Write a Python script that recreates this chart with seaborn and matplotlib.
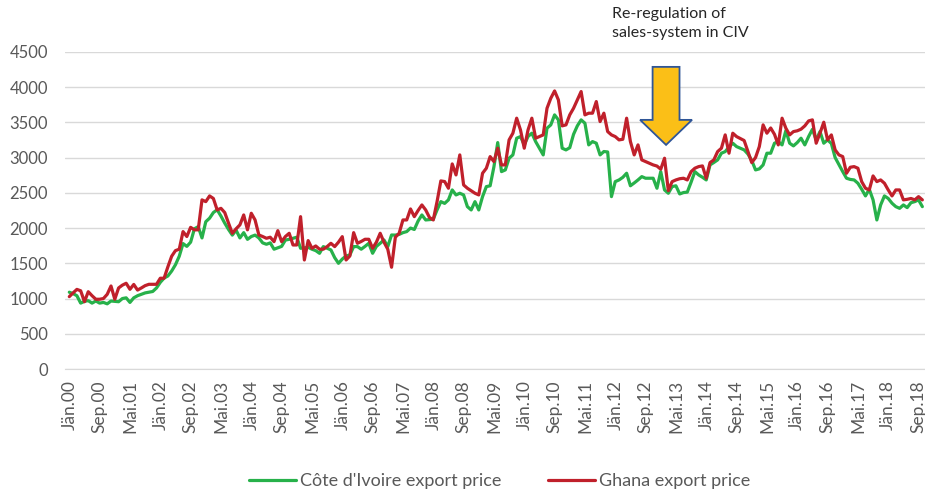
import numpy as np
import pandas as pd
import matplotlib.pyplot as plt
import seaborn as sns
from matplotlib.patches import FancyArrow

# Monthly cocoa export prices, Jan 2000 - Oct 2018
civ_price = [
    1090, 1070, 1040, 935, 960, 970, 935, 965, 935, 945, 925, 965,          # 2000
    960, 955, 1000, 1010, 945, 1010, 1040, 1060, 1080, 1090, 1100, 1150,    # 2001
    1230, 1290, 1320, 1390, 1480, 1600, 1780, 1740, 1800, 1990, 2020, 1860, # 2002
    2090, 2140, 2220, 2260, 2170, 2070, 1980, 1900, 1970, 1860, 1935, 1840, # 2003
    1880, 1900, 1860, 1790, 1770, 1790, 1700, 1720, 1740, 1830, 1840, 1855, # 2004
    1870, 1713, 1720, 1727, 1700, 1680, 1642, 1737, 1713, 1690, 1580, 1500, # 2005
    1560, 1604, 1618, 1737, 1737, 1700, 1740, 1784, 1642, 1740, 1784, 1831, # 2006
    1737, 1902, 1900, 1910, 1935, 1950, 2000, 1980, 2100, 2186, 2115, 2120, # 2007
    2125, 2257, 2375, 2350, 2400, 2541, 2470, 2494, 2470, 2304, 2257, 2375, # 2008
    2257, 2446, 2588, 2600, 2870, 3213, 2801, 2825, 2991, 3038, 3275, 3298, # 2009
    3180, 3300, 3346, 3227, 3133, 3038, 3417, 3464, 3606, 3535, 3133, 3109, # 2010
    3140, 3330, 3450, 3535, 3488, 3180, 3227, 3204, 3038, 3086, 3080, 2446, # 2011
    2659, 2683, 2720, 2778, 2600, 2640, 2683, 2730, 2707, 2707, 2707, 2565, # 2012
    2801, 2541, 2494, 2588, 2600, 2484, 2504, 2510, 2650, 2801, 2754, 2721, # 2013
    2683, 2896, 2930, 2967, 3062, 3085, 3150, 3204, 3156, 3133, 3109, 3050, # 2014
    2960, 2825, 2840, 2896, 3062, 3062, 3204, 3227, 3180, 3383, 3204, 3166, # 2015
    3213, 3275, 3180, 3298, 3400, 3251, 3369, 3204, 3251, 3200, 3000, 2900, # 2016
    2801, 2707, 2690, 2683, 2636, 2551, 2456, 2551, 2400, 2115, 2328, 2456, # 2017
    2420, 2352, 2304, 2280, 2328, 2290, 2360, 2375, 2400, 2304,             # 2018
]

ghana_price = [
    1027, 1080, 1130, 1110, 955, 1097, 1040, 990, 990, 1000, 1060, 1178,    # 2000
    990, 1150, 1190, 1217, 1131, 1200, 1120, 1150, 1183, 1202, 1202, 1202,  # 2001
    1288, 1288, 1450, 1600, 1680, 1700, 1950, 1880, 2010, 1975, 1975, 2400, # 2002
    2375, 2456, 2420, 2257, 2280, 2220, 2070, 1926, 1990, 2045, 2186, 1975, # 2003
    2210, 2115, 1902, 1880, 1855, 1870, 1807, 1963, 1807, 1880, 1926, 1760, # 2004
    1760, 2162, 1547, 1822, 1713, 1746, 1700, 1700, 1737, 1784, 1737, 1800, # 2005
    1878, 1547, 1604, 1935, 1784, 1810, 1841, 1841, 1713, 1800, 1926, 1800, # 2006
    1700, 1444, 1870, 1926, 2115, 2115, 2271, 2162, 2250, 2328, 2257, 2150, # 2007
    2115, 2375, 2669, 2660, 2565, 2910, 2754, 3038, 2612, 2565, 2530, 2494, # 2008
    2470, 2778, 2849, 3014, 2943, 3133, 2896, 2896, 3251, 3346, 3559, 3393, # 2009
    3133, 3393, 3559, 3275, 3298, 3322, 3700, 3842, 3946, 3819, 3450, 3464, # 2010
    3606, 3700, 3819, 3937, 3606, 3630, 3630, 3795, 3511, 3630, 3369, 3322, # 2011
    3298, 3251, 3260, 3559, 3227, 3038, 3180, 2967, 2943, 2920, 2896, 2880, # 2012
    2835, 2991, 2531, 2659, 2683, 2700, 2707, 2683, 2800, 2849, 2872, 2882, # 2013
    2707, 2929, 2967, 3085, 3133, 3322, 3062, 3346, 3298, 3270, 3242, 3085, # 2014
    2929, 3000, 3156, 3464, 3346, 3420, 3330, 3180, 3559, 3417, 3322, 3369, # 2015
    3380, 3403, 3450, 3520, 3535, 3204, 3346, 3502, 3251, 3322, 3109, 3038, # 2016
    3014, 2778, 2863, 2872, 2849, 2659, 2565, 2541, 2740, 2659, 2683, 2636, # 2017
    2541, 2456, 2541, 2541, 2400, 2408, 2420, 2400, 2446, 2400,             # 2018
]

# one label every 8 months
tick_labels = [
    "Jän.00", "Sep.00", "Mai.01", "Jän.02", "Sep.02", "Mai.03", "Jän.04", "Sep.04",
    "Mai.05", "Jän.06", "Sep.06", "Mai.07", "Jän.08", "Sep.08", "Mai.09", "Jän.10",
    "Sep.10", "Mai.11", "Jän.12", "Sep.12", "Mai.13", "Jän.14", "Sep.14", "Mai.15",
    "Jän.16", "Sep.16", "Mai.17", "Jän.18", "Sep.18",
]

series_names = ["Côte d'Ivoire export price", "Ghana export price"]
colors = {series_names[0]: "#27B14A", series_names[1]: "#C0202B"}

month = np.arange(len(civ_price))
df = pd.concat([
    pd.DataFrame({"month": month, "price": civ_price, "series": series_names[0]}),
    pd.DataFrame({"month": np.arange(len(ghana_price)), "price": ghana_price, "series": series_names[1]}),
])

sns.set_style("white")
plt.rcParams["font.family"] = ["Lato", "DejaVu Sans"]

fig = plt.figure(figsize=(9.25, 4.94), dpi=100)
ax = fig.add_axes([0.070, 0.253, 0.930, 0.642])

sns.lineplot(data=df, x="month", y="price", hue="series", hue_order=series_names,
             palette=colors, linewidth=2.3, ax=ax, legend=False)

ax.set_xlim(-1.2, 225.7)
ax.set_ylim(0, 4500)
ax.set_yticks(np.arange(0, 4501, 500))
ax.set_xticks(np.arange(0, 8 * len(tick_labels), 8))
ax.set_xticklabels(tick_labels, rotation=90)
ax.set_xlabel("")
ax.set_ylabel("")

ax.grid(axis="y", color="#d9d9d9", linewidth=1)
ax.set_axisbelow(True)
for side in ["left", "top", "right"]:
    ax.spines[side].set_visible(False)
ax.spines["bottom"].set_color("#d9d9d9")
ax.tick_params(axis="x", colors="#595959", labelsize=12.5, length=5, color="#bfbfbf", pad=3)
ax.tick_params(axis="y", colors="#595959", labelsize=12, length=0, pad=12)

# annotation: yellow block arrow with text
arrow = FancyArrow(157.4, 4287, 0, -1107, width=7.1, head_width=13.7, head_length=355,
                   length_includes_head=True, facecolor="#FBBF17", edgecolor="#2F5597",
                   linewidth=1.3, clip_on=False, zorder=5)
ax.add_patch(arrow)
fig.text(0.662, 0.985, "Re-regulation of\nsales-system in CIV", ha="left", va="top",
         fontsize=11.5, color="#262626", linespacing=1.4)

# legend centred under the plot area
handles = ax.get_lines()[:2]
fig.legend(handles, series_names, loc="center", bbox_to_anchor=(0.54, 0.026), ncol=2,
           frameon=False, fontsize=13, handlelength=2.6, columnspacing=2.6,
           handletextpad=0.2, labelcolor="#595959")

plt.savefig("out.png", dpi=100)
plt.close()
